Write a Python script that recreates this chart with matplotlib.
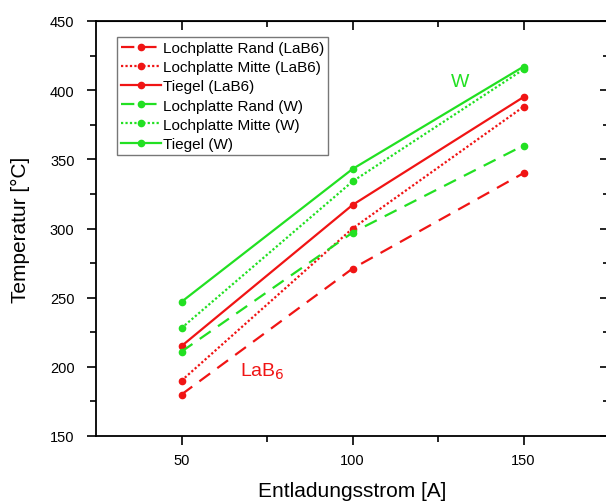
import numpy as np
import matplotlib.pyplot as plt

plt.rcParams['font.family'] = ['Liberation Sans', 'DejaVu Sans']

strom = [50, 100, 150]

rand_lab6 = [180, 271, 340]
mitte_lab6 = [190, 300, 388]
tiegel_lab6 = [215, 317, 395]
rand_w = [211, 297, 360]
mitte_w = [228, 334, 415]
tiegel_w = [247, 343, 417]

labels = ["Lochplatte Rand (LaB6)", "Lochplatte Mitte (LaB6)", "Tiegel (LaB6)",
          "Lochplatte Rand (W)", "Lochplatte Mitte (W)", "Tiegel (W)"]

red = '#f01414'
green = '#22e022'

fig = plt.figure(figsize=(6.06, 5.02), dpi=100)
ax = fig.add_axes([96 / 606, 65 / 502, 513 / 606, 415 / 502])

series = [rand_lab6, mitte_lab6, tiegel_lab6, rand_w, mitte_w, tiegel_w]
colors = [red, red, red, green, green, green]
styles = [(0, (6, 4)), (0, (1, 1)), '-', (0, (6, 4)), (0, (1, 1)), '-']

for y, c, ls, lab in zip(series, colors, styles, labels):
    ax.plot(strom, y, color=c, linestyle=ls, lw=1.6, marker='o', ms=4.5,
            label=lab)

ax.set_xlim(25, 175)
ax.set_ylim(150, 450)
xt = [50, 100, 150]
xm = [75, 125]
yt = np.arange(150, 451, 50)
ym = np.arange(175, 450, 50)
ax.set_xticks(xt)
ax.set_xticks(xm, minor=True)
ax.set_yticks(yt)
ax.set_yticks(ym, minor=True)

ax.tick_params(which='both', direction='out', labelsize=10.5, width=1.2)
ax.tick_params(which='major', length=6.5)
ax.tick_params(which='minor', length=4)
ax.tick_params(axis='x', pad=6)
ax.tick_params(axis='y', pad=9)
for sp in ax.spines.values():
    sp.set_linewidth(1.3)

# mirrored ticks pointing inward on top and right
top = ax.secondary_xaxis('top')
top.set_xticks(xt)
top.set_xticks(xm, minor=True)
top.tick_params(which='both', direction='in', labeltop=False, width=1.2)
top.tick_params(which='major', length=6.5)
top.tick_params(which='minor', length=4)
right = ax.secondary_yaxis('right')
right.set_yticks(yt)
right.set_yticks(ym, minor=True)
right.tick_params(which='both', direction='in', labelright=False, width=1.2)
right.tick_params(which='major', length=6.5)
right.tick_params(which='minor', length=4)

ax.set_xlabel("Entladungsstrom [A]", fontsize=15, labelpad=10)
ax.set_ylabel("Temperatur [°C]", fontsize=15, labelpad=14)

ax.text(73.5, 197, "LaB$_6$", color=red, fontsize=14, ha='center', va='center')
ax.text(131.5, 406, "W", color=green, fontsize=14, ha='center', va='center')

leg = ax.legend(loc='upper left', bbox_to_anchor=(0.041, 0.961), fontsize=11,
                frameon=True, fancybox=False, handlelength=2.6,
                handletextpad=0.15, borderpad=0.25, labelspacing=0.34,
                borderaxespad=0)
leg.get_frame().set_edgecolor('#555555')
leg.get_frame().set_linewidth(1.0)

fig.savefig("out.png", dpi=100)
